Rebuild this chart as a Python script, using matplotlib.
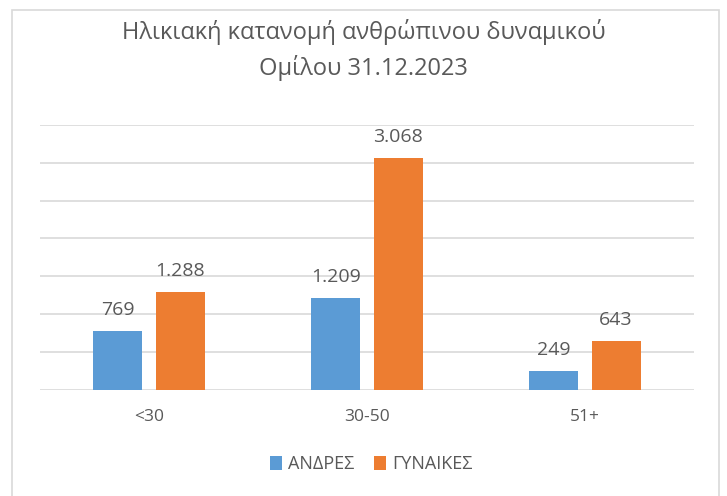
import matplotlib
matplotlib.use("Agg")
import matplotlib.pyplot as plt
import matplotlib.patches as mpatches
import numpy as np

plt.rcParams['font.family'] = ['Open Sans', 'DejaVu Sans']

categories = ["<30", "30-50", "51+"]
series_names = ["ΑΝΔΡΕΣ", "ΓΥΝΑΙΚΕΣ"]
men = [769, 1209, 249]
women = [1288, 3068, 643]
title = "Ηλικιακή κατανομή ανθρώπινου δυναμικού\nΟμίλου 31.12.2023"

BLUE = "#5B9BD5"
ORANGE = "#ED7D31"
GRID = "#D9D9D9"
TEXT = "#595959"

W, H = 727, 496
fig = plt.figure(figsize=(W / 100, H / 100), dpi=100)
fig.patch.set_facecolor("white")

# chart border
fig.patches.append(mpatches.Rectangle((12 / W, -0.05), (719 - 12) / W, 1.05 - 10 / H,
                                      transform=fig.transFigure, fill=False,
                                      edgecolor=GRID, lw=1.2))

ax = fig.add_axes([40 / W, (H - 389.5) / H, (694 - 40) / W, (389.5 - 125) / H])

x = np.arange(len(categories))
bw = 0.225
off = 0.1425
b1 = ax.bar(x - off, men, bw, color=BLUE, label=series_names[0], zorder=3)
b2 = ax.bar(x + off, women, bw, color=ORANGE, label=series_names[1], zorder=3)

def fmt(v):
    return f"{v:,}".replace(",", ".")

for bars, vals in ((b1, men), (b2, women)):
    for rect, v in zip(bars, vals):
        ax.annotate(fmt(v), (rect.get_x() + rect.get_width() / 2, v),
                    xytext=(0, 21), textcoords="offset pixels",
                    ha="center", va="center", fontsize=14, color=TEXT)

ax.set_xlim(-0.5, 2.5)
ax.set_ylim(0, 3500)
ax.set_yticks(np.arange(0, 3501, 500))
ax.set_yticklabels([])
ax.tick_params(axis="y", length=0)
ax.grid(axis="y", color=GRID, lw=1.2, zorder=0)
ax.set_xticks(x)
ax.set_xticklabels(categories, fontsize=12.5, color=TEXT)
ax.tick_params(axis="x", length=0, pad=14)
for s in ["top", "right", "left", "bottom"]:
    ax.spines[s].set_visible(False)
ax.set_facecolor("none")

fig.text(0.5, 1 - 50 / H, title, ha="center", va="center",
         fontsize=17, color=TEXT, linespacing=1.5)

leg = fig.legend(handles=[b1, b2], labels=series_names, loc="center",
                 bbox_to_anchor=(371.5 / W, 1 - 464 / H), ncol=2, frameon=False,
                 fontsize=13, handlelength=0.65, handleheight=0.8,
                 handletextpad=0.35, columnspacing=1.1)
for t in leg.get_texts():
    t.set_color(TEXT)

fig.savefig("out.png", dpi=100, facecolor="white")
